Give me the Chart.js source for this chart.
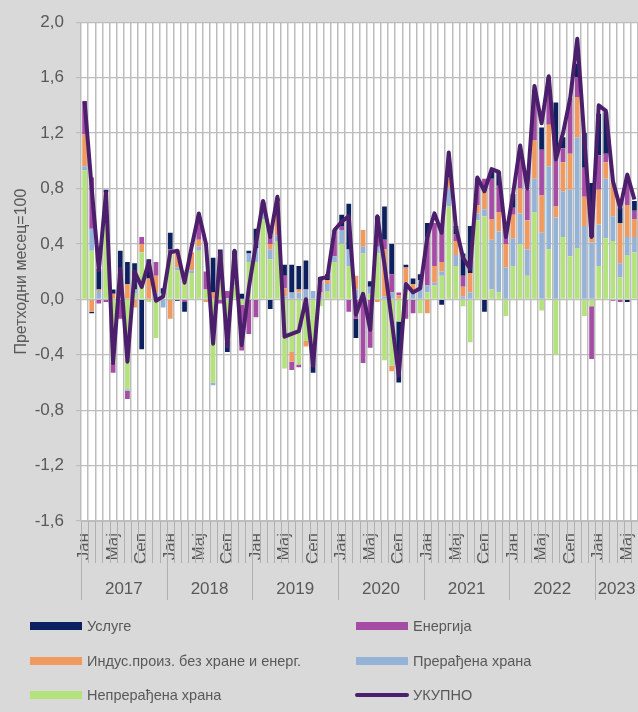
<!DOCTYPE html>
<html>
<head>
<meta charset="utf-8">
<script src="https://cdn.jsdelivr.net/npm/chart.js@4.4.1/dist/chart.umd.min.js"></script>
<style>
  html, body { margin: 0; padding: 0; background: #d9d9d9; overflow: hidden; }
</style>
</head>
<body>
<canvas id="myChart" width="638" height="712"></canvas>
<script>
// months shown on the axis and years under them
const monthNames = ['Јан', '', '', '', 'Мај', '', '', '', 'Сеп', '', '', ''];
const years = ['2017', '2018', '2019', '2020', '2021', '2022', '2023'];
const monthsInYear = [12, 12, 12, 12, 12, 12, 6];

// contributions, Jan 2017 - Jun 2023
const unprocessed = [
  0.93, 0.35, 0.00, 0.74, -0.46, 0.00, -0.65, 0.04, 0.34, -0.02, -0.28, 0.04,
  0.33, 0.21, 0.21, 0.19, 0.35, 0.07, -0.60, 0.22, -0.30, 0.10, -0.04, 0.27,
  0.27, 0.58, 0.29, 0.42, -0.50, -0.38, -0.47, -0.30, -0.35, -0.05, 0.06, 0.27,
  0.40, 0.24, 0.00, 0.33, 0.04, 0.33, -0.44, -0.48, -0.16, 0.05, 0.00, -0.10,
  0.05, 0.10, 0.17, 0.67, 0.24, -0.05, -0.31, 0.57, 0.60, 0.07, 0.05, -0.12,
  0.24, 0.40, 0.17, 0.63, -0.08, 0.36, -0.40, 0.45, 0.31, 0.37, -0.12, -0.05,
  0.24, 0.44, 0.42, 0.16, 0.32, 0.34
];
const processed = [
  0.03, 0.16, 0.06, 0.01, 0.00, 0.04, -0.01, 0.03, 0.00, 0.00, 0.05, -0.06,
  0.01, 0.02, 0.00, 0.02, 0.03, 0.00, -0.02, 0.02, 0.01, 0.03, 0.00, 0.06,
  0.10, 0.05, 0.07, 0.04, 0.02, 0.05, 0.05, 0.07, 0.06, 0.03, 0.05, 0.04,
  0.10, 0.12, 0.07, 0.05, 0.05, 0.05, 0.02, 0.05, 0.00, 0.07, 0.05, 0.14,
  0.05, 0.02, 0.03, 0.13, 0.08, 0.02, 0.05, 0.05, 0.05, 0.36, 0.44, 0.23,
  0.20, 0.22, 0.19, 0.24, 0.48, 0.60, 0.59, 0.33, 0.48, 0.80, 0.53, 0.41,
  0.30, 0.43, 0.18, 0.10, 0.13, 0.11
];
const industrial = [
  0.23, -0.09, 0.01, 0.02, 0.04, 0.07, 0.11, -0.06, 0.06, 0.15, 0.12, 0.00,
  -0.14, 0.13, 0.00, 0.13, 0.05, -0.02, 0.05, 0.04, 0.00, 0.12, 0.00, 0.00,
  0.00, 0.03, 0.04, 0.25, 0.06, -0.07, 0.02, -0.04, -0.03, 0.02, 0.03, 0.00,
  0.00, 0.00, 0.10, 0.12, 0.00, -0.02, 0.34, -0.04, 0.03, 0.11, 0.06, 0.00,
  -0.10, 0.12, 0.07, 0.08, 0.10, 0.07, 0.14, 0.06, 0.16, 0.15, 0.14, 0.17,
  0.17, 0.18, 0.21, 0.28, 0.27, 0.30, 0.08, 0.21, 0.26, 0.29, 0.21, 0.04,
  0.25, 0.12, 0.24, 0.29, 0.23, 0.13
];
const energy = [
  0.24, 0.37, -0.03, -0.02, -0.07, -0.14, -0.06, 0.00, 0.05, 0.00, 0.10, 0.00,
  0.02, 0.00, -0.02, 0.00, 0.17, 0.13, 0.00, -0.03, 0.05, 0.05, -0.33, -0.25,
  -0.13, 0.02, 0.06, 0.00, 0.09, -0.06, -0.02, 0.00, -0.02, 0.08, 0.00, 0.19,
  0.03, -0.09, -0.14, -0.46, -0.35, 0.12, 0.07, 0.13, 0.02, -0.14, -0.10, 0.00,
  0.35, 0.31, 0.27, 0.00, 0.05, 0.08, 0.00, 0.15, 0.06, 0.29, 0.19, 0.10,
  0.05, 0.22, 0.22, 0.30, 0.33, 0.31, 0.43, 0.10, 0.40, 0.14, 0.21, -0.38,
  0.25, 0.06, -0.01, -0.02, 0.20, 0.06
];
const services = [
  0.00, -0.01, 0.15, 0.02, 0.03, 0.24, 0.16, 0.19, -0.36, 0.14, 0.00, 0.04,
  0.12, -0.01, -0.07, 0.00, 0.00, 0.00, 0.25, 0.08, -0.08, 0.05, 0.04, 0.02,
  0.14, 0.02, -0.07, 0.02, 0.08, 0.20, 0.17, 0.21, -0.13, 0.03, 0.04, 0.00,
  0.08, 0.33, -0.14, 0.00, 0.04, 0.10, 0.24, 0.22, -0.44, 0.02, 0.04, 0.04,
  0.10, 0.00, -0.04, 0.02, 0.06, 0.16, 0.34, 0.04, -0.09, 0.05, 0.10, 0.00,
  0.10, 0.05, 0.00, 0.06, 0.16, 0.03, 0.32, 0.08, 0.00, 0.10, 0.25, 0.39,
  0.30, 0.30, 0.00, 0.11, -0.02, 0.07
];
const total = [
  1.43, 0.80, 0.21, 0.77, -0.46, 0.22, -0.45, 0.20, 0.09, 0.27, -0.01, 0.02,
  0.34, 0.35, 0.12, 0.38, 0.62, 0.40, -0.32, 0.34, -0.34, 0.35, -0.33, 0.08,
  0.40, 0.71, 0.45, 0.74, -0.27, -0.25, -0.23, 0.00, -0.48, 0.15, 0.16, 0.50,
  0.56, 0.60, -0.11, 0.04, -0.22, 0.60, 0.25, -0.15, -0.55, 0.11, 0.05, 0.08,
  0.45, 0.62, 0.48, 1.06, 0.52, 0.30, 0.22, 0.88, 0.78, 0.94, 0.92, 0.45,
  0.76, 1.11, 0.80, 1.54, 1.27, 1.61, 1.01, 1.20, 1.45, 1.88, 1.15, 0.45,
  1.40, 1.36, 0.85, 0.66, 0.90, 0.72
];

const labels = [];
years.forEach((y, yi) => {
  for (let m = 0; m < monthsInYear[yi]; m++) labels.push(monthNames[m]);
});

const font = 'Liberation Sans, Arial, sans-serif';
const textGray = '#595959';
const gridGray = '#bdbdbd';

const legendOrder = ['Услуге', 'Енергија', 'Индус.произ. без хране и енерг.', 'Прерађена храна', 'Непрерађена храна', 'УКУПНО'];

const bgPlugin = {
  id: 'bg',
  beforeDraw(chart) {
    const ctx = chart.ctx, a = chart.chartArea;
    ctx.save();
    ctx.fillStyle = '#d9d9d9';
    ctx.fillRect(0, 0, chart.width, chart.height);
    ctx.fillStyle = '#ffffff';
    ctx.fillRect(a.left, a.top, a.right - a.left, a.bottom - a.top);
    ctx.restore();
  }
};

const axisExtras = {
  id: 'axisExtras',
  afterDraw(chart) {
    const ctx = chart.ctx, xs = chart.scales.x, a = chart.chartArea;
    const step = (xs.right - xs.left) / labels.length;
    ctx.save();
    ctx.strokeStyle = '#b0b0b0';
    ctx.lineWidth = 1;
    for (let i = 0; i <= labels.length; i++) {
      const x = Math.round(xs.left + i * step) + 0.5;
      ctx.beginPath();
      ctx.moveTo(x, a.bottom);
      ctx.lineTo(x, a.bottom + 42);
      ctx.stroke();
    }
    let start = 0;
    ctx.fillStyle = textGray;
    ctx.font = '17px ' + font;
    ctx.textAlign = 'center';
    ctx.textBaseline = 'middle';
    years.forEach((y, yi) => {
      const x0 = xs.left + start * step;
      const x1 = xs.left + (start + monthsInYear[yi]) * step;
      const xl = Math.round(x0) + 0.5;
      ctx.beginPath();
      ctx.moveTo(xl, a.bottom);
      ctx.lineTo(xl, a.bottom + 79);
      ctx.stroke();
      ctx.fillText(y, (x0 + x1) / 2, a.bottom + 68);
      start += monthsInYear[yi];
    });
    ctx.restore();
  }
};

const legendPlugin = {
  id: 'fixedLegend',
  afterDraw(chart) {
    const ctx = chart.ctx;
    const cols = [30, 356];
    const rows = [626, 661, 695];
    ctx.save();
    ctx.font = '14.5px ' + font;
    ctx.textBaseline = 'middle';
    ctx.textAlign = 'left';
    legendOrder.forEach((name, k) => {
      const ds = chart.data.datasets.find(d => d.label === name);
      const x = cols[k % 2], y = rows[Math.floor(k / 2)];
      if (ds.type === 'line') {
        ctx.strokeStyle = ds.borderColor;
        ctx.lineWidth = 4;
        ctx.lineCap = 'round';
        ctx.beginPath();
        ctx.moveTo(x + 1, y);
        ctx.lineTo(x + 51, y);
        ctx.stroke();
      } else {
        ctx.fillStyle = ds.backgroundColor;
        ctx.fillRect(x, y - 4, 52, 8);
      }
      ctx.fillStyle = textGray;
      ctx.fillText(name, x + 57, y + 1);
    });
    ctx.restore();
  }
};

const config = {
  type: 'bar',
  data: {
    labels: labels,
    datasets: [
      { type: 'line', label: 'УКУПНО', data: total, borderColor: '#4c1f6c', borderWidth: 4,
        pointRadius: 0, tension: 0, order: 0, stack: 'total', borderJoinStyle: 'round' },
      { label: 'Непрерађена храна', data: unprocessed, backgroundColor: '#b4e27c', order: 1, stack: 's' },
      { label: 'Прерађена храна', data: processed, backgroundColor: '#95b3d7', order: 1, stack: 's' },
      { label: 'Индус.произ. без хране и енерг.', data: industrial, backgroundColor: '#f19a5f', order: 1, stack: 's' },
      { label: 'Енергија', data: energy, backgroundColor: '#a54ca5', order: 1, stack: 's' },
      { label: 'Услуге', data: services, backgroundColor: '#0d2160', order: 1, stack: 's' }
    ]
  },
  options: {
    responsive: false,
    animation: false,
    datasets: { bar: { categoryPercentage: 1, barPercentage: 0.66 } },
    layout: { padding: { left: 8, right: 0, top: 17, bottom: 112 } },
    plugins: { legend: { display: false }, tooltip: { enabled: false } },
    scales: {
      x: {
        stacked: true,
        grid: { offset: true, color: gridGray, lineWidth: 1.5, drawTicks: false },
        border: { color: gridGray },
        ticks: { autoSkip: false, maxRotation: 90, minRotation: 90, padding: 12,
                 color: textGray, font: { family: font, size: 17 } },
        afterFit: s => { s.height = 79; s.paddingLeft = 0; s.paddingRight = 0; }
      },
      y: {
        stacked: true,
        min: -1.6, max: 2.0,
        grid: { color: gridGray, lineWidth: 1.2, tickLength: 5 },
        border: { display: false },
        ticks: {
          stepSize: 0.4, padding: 12, color: textGray, font: { family: font, size: 17 },
          callback: v => (Math.abs(v) < 1e-9 ? 0 : v).toFixed(1).replace('.', ',')
        },
        title: { display: true, text: 'Претходни месец=100', color: textGray,
                 font: { family: font, size: 16 }, padding: { top: 4, bottom: 4 } },
        afterFit: s => { s.width = 73; }
      }
    }
  },
  plugins: [bgPlugin, axisExtras, legendPlugin]
};

const myChart = new Chart(document.getElementById('myChart'), config);
</script>
</body>
</html>
